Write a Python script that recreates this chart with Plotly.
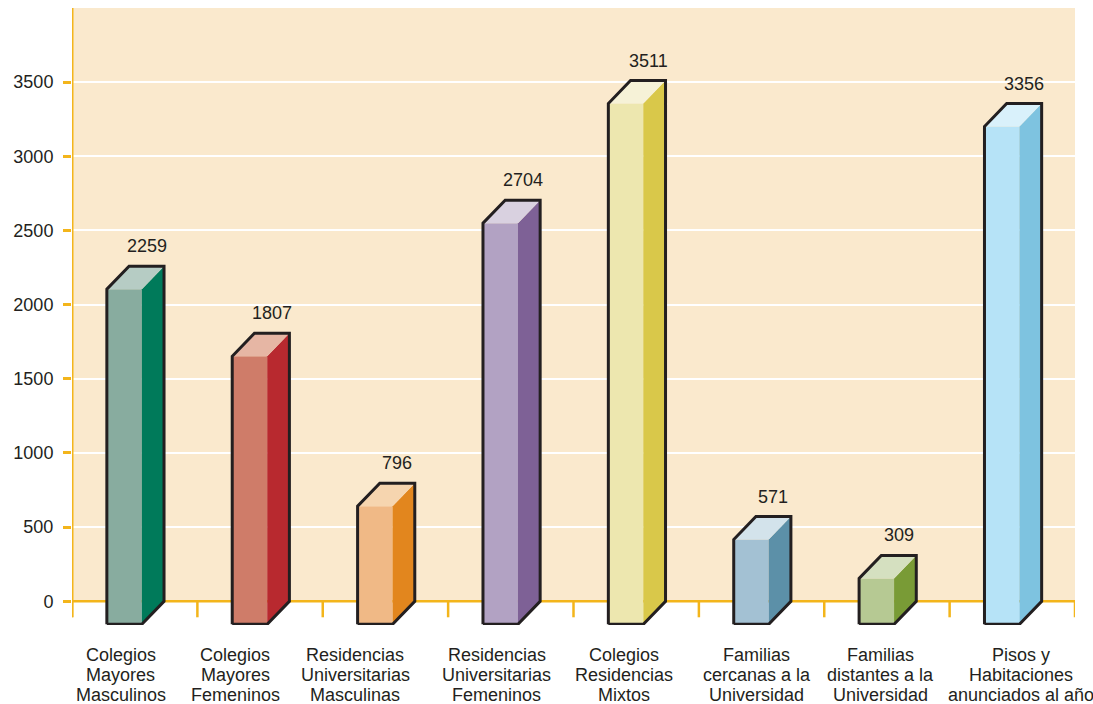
import plotly.graph_objects as go

# ---- data ----
categories = [
    "Colegios<br>Mayores<br>Masculinos",
    "Colegios<br>Mayores<br>Femeninos",
    "Residencias<br>Universitarias<br>Masculinas",
    "Residencias<br>Universitarias<br>Femeninos",
    "Colegios<br>Residencias<br>Mixtos",
    "Familias<br>cercanas a la<br>Universidad",
    "Familias<br>distantes a la<br>Universidad",
    "Pisos y<br>Habitaciones<br>anunciados al año",
]
values = [2259, 1807, 796, 2704, 3511, 571, 309, 3356]
y_ticks = [0, 500, 1000, 1500, 2000, 2500, 3000, 3500]

# ---- styles ----
front_colors = ["#88AC9F", "#CF7C69", "#F0B986", "#B2A2C3", "#EDE7AF", "#A3C1D3", "#B6C993", "#B6E3F7"]
side_colors = ["#007A5A", "#B8292F", "#E2861E", "#7E6196", "#D9C84A", "#5C90A8", "#799B36", "#7EC3E0"]
top_colors = ["#B6CCC4", "#E6B6A4", "#F6D5AF", "#D9D1E0", "#F6F2D7", "#D3E3EB", "#D5E0C0", "#D9F1FB"]
label_xshift = [-14, -25, -30, -14, -12, -5, -6, 9]

BEIGE = "#FAE9CD"
ORANGE = "#F3B51B"
INK = "#231F20"
FONT = "Liberation Sans, Arial, sans-serif"

Y_MIN, Y_MAX = -160, 4000
X_MIN, X_MAX = -0.5, 7.5
FL, FR, DX, DY = -0.222, 0.057, 0.177, 155  # bar geometry (category units / value units)

fig = go.Figure()

for i, v in enumerate(values):
    fl, fr = i + FL, i + FR
    bl, br = fl + DX, fr + DX
    faces = [
        ([fl, fr, fr, fl, fl], [-DY, -DY, v - DY, v - DY, -DY], front_colors[i]),
        ([fr, br, br, fr, fr], [-DY, 0, v, v - DY, -DY], side_colors[i]),
        ([fl, fr, br, bl, fl], [v - DY, v - DY, v, v, v - DY], top_colors[i]),
    ]
    for xs, ys, col in faces:
        fig.add_trace(go.Scatter(x=xs, y=ys, mode="lines", fill="toself",
                                 fillcolor=col, line=dict(width=0, color=col),
                                 hoverinfo="skip", showlegend=False))
    fig.add_trace(go.Scatter(
        x=[fl, fl, bl, br, br, fr, fl],
        y=[-DY, v - DY, v, v, 0, -DY, -DY],
        mode="lines", line=dict(color=INK, width=3),
        hoverinfo="skip", showlegend=False))
    fig.add_annotation(x=(bl + br) / 2, y=v, text=str(v), showarrow=False,
                       yanchor="bottom", yshift=8,
                       font=dict(family=FONT, size=18, color=INK))
    for k, line in enumerate(categories[i].split("<br>")):
        fig.add_annotation(x=i, y=0, yref="paper", text=line, showarrow=False,
                           yanchor="middle", xshift=label_xshift[i], yshift=-30 - 20 * k,
                           font=dict(family=FONT, size=18, color=INK))

shapes = [dict(type="rect", x0=X_MIN, x1=X_MAX, y0=0, y1=Y_MAX, fillcolor=BEIGE,
               line=dict(width=0), layer="below")]
shapes.append(dict(type="line", x0=X_MIN, x1=X_MAX, y0=0, y1=0,
                   line=dict(color=ORANGE, width=2.5), layer="between"))
shapes.append(dict(type="line", x0=X_MIN, x1=X_MIN, y0=-108, y1=Y_MAX,
                   line=dict(color=ORANGE, width=3), layer="between"))
for k in range(len(values) + 1):
    xb = X_MIN + k
    shapes.append(dict(type="line", x0=xb, x1=xb, y0=0, y1=-108,
                       line=dict(color=ORANGE, width=2.5), layer="between"))

fig.update_layout(
    width=1093, height=704,
    margin=dict(l=72, r=18, t=8, b=79),
    paper_bgcolor="white", plot_bgcolor="white",
    shapes=shapes,
    font=dict(family=FONT, color=INK),
    xaxis=dict(range=[X_MIN, X_MAX], showgrid=False, zeroline=False,
               showticklabels=False, ticks="", showline=False, fixedrange=True),
    yaxis=dict(range=[Y_MIN, Y_MAX], tickvals=y_ticks, ticktext=[str(t) for t in y_ticks],
               showgrid=True, gridcolor="white", gridwidth=2, zeroline=False,
               ticks="outside", ticklen=8, tickwidth=2.5, tickcolor=ORANGE,
               ticklabelstandoff=6,
               showline=False, tickfont=dict(family=FONT, size=18, color=INK),
               fixedrange=True),
)

fig.write_html("out.html", config={"displayModeBar": False},
               post_script="document.body.style.margin='0';document.body.style.overflow='hidden';")
